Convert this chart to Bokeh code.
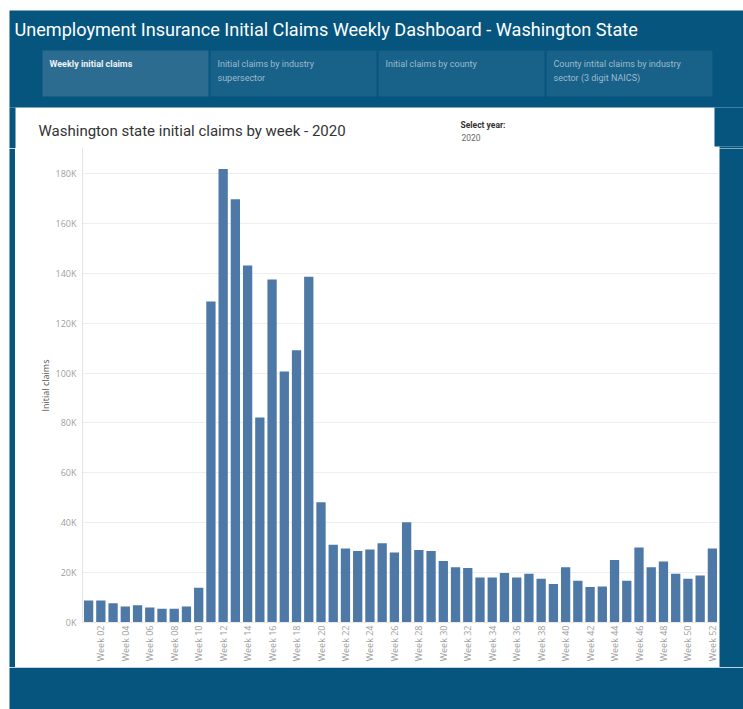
import numpy as np
from bokeh.plotting import figure
from bokeh.layouts import column, row
from bokeh.models import FixedTicker
from bokeh.core.properties import value
from bokeh.embed import file_html
from bokeh.resources import INLINE

# ---- data -------------------------------------------------------------
week_numbers = list(range(1, 53))
claims = [8800, 8800, 7700, 6400, 6900, 6000, 5500, 5500, 6400, 13900,
          128700, 181800, 169700, 143100, 82200, 137500, 100600, 109100, 138600, 48200,
          31200, 29700, 28700, 29300, 31800, 28100, 40200, 29100, 28700, 24700,
          22100, 21800, 18000, 18000, 19800, 18000, 19500, 17500, 15400, 22100,
          16700, 14200, 14400, 25100, 16700, 30100, 22100, 24500, 19500, 17500,
          18800, 29700]
x_ticks = list(range(2, 53, 2))
x_tick_labels = [f"Week {w:02d}" for w in x_ticks]
y_ticks = [0, 20000, 40000, 60000, 80000, 100000, 120000, 140000, 160000, 180000]
y_tick_labels = ["0K", "20K", "40K", "60K", "80K", "100K", "120K", "140K", "160K", "180K"]
tabs = ["Weekly initial claims",
        "Initial claims by industry\nsupersector",
        "Initial claims by county",
        "County intital claims by industry\nsector (3 digit NAICS)"]

# ---- styling ------------------------------------------------------------
NAVY = "#05557e"
TAB_ON = "#2b6c90"
TAB_OFF = "#186189"
BAR = "#4e79a7"
FONT = "Roboto"
AXIS_FONT = "Open Sans"


def panel(w, h, fill="white"):
    """A plain drawing surface whose data units are pixels (y pointing down)."""
    f = figure(width=w, height=h, x_range=(0, w), y_range=(h, 0),
               output_backend="svg", toolbar_location=None,
               x_axis_type=None, y_axis_type=None, min_border=0)
    f.outline_line_color = None
    f.background_fill_color = fill
    f.border_fill_color = fill
    f.xgrid.visible = False
    f.ygrid.visible = False
    return f


def rect(f, l, r, t, b, color):
    f.quad(left=[l], right=[r], top=[t], bottom=[b], fill_color=color, line_color=None)


def write(f, x, y, text, size, color, style="normal", font=FONT):
    f.text(x=[x], y=[y], text=[text], text_font=value(font), text_font_size=size,
           text_color=color, text_font_style=style, text_align="left",
           text_baseline="middle")


# ---- top band: dashboard title, navigation tabs, chart heading ---------
top = panel(743, 148)
rect(top, 9, 743, 10, 107, NAVY)
rect(top, 9, 15, 107, 148, NAVY)
rect(top, 714, 743, 107, 146, NAVY)
rect(top, 719, 743, 146, 148, NAVY)
write(top, 14, 29,
      "Unemployment Insurance Initial Claims Weekly Dashboard  - Washington State",
      "18.1px", "white")
tab_x = [42, 210, 378, 546]
for i, (x0, text) in enumerate(zip(tab_x, tabs)):
    rect(top, x0, x0 + 166, 50, 96, TAB_ON if i == 0 else TAB_OFF)
    for j, line in enumerate(text.split("\n")):
        write(top, x0 + 7, 63 + 14 * j, line, "9px",
              "#eef3f6" if i == 0 else "#9dbbcd",
              style="bold" if i == 0 else "normal")
write(top, 38, 130, "Washington state initial claims by week - 2020", "15px", "#333333")
write(top, 460, 124, "Select year:", "8.5px", "#333333", style="bold")
write(top, 461, 137, "2020", "8.5px", "#666666")

# ---- side and bottom margins of the dashboard ---------------------------
left = panel(15, 519)
rect(left, 9, 15, 0, 519, NAVY)
right = panel(24, 519, NAVY)
footer = panel(743, 42)
rect(footer, 9, 743, 0, 42, NAVY)

# ---- weekly claims bar chart ------------------------------------------
p = figure(width=704, height=519, output_backend="svg", toolbar_location=None,
           x_range=(0.5, 52.5), y_range=(0, 190000),
           min_border_left=67, min_border_right=1,
           min_border_top=0, min_border_bottom=45)
p.title.visible = False
p.border_fill_color = "white"
p.background_fill_color = "white"
p.outline_line_color = None

p.vbar(x=week_numbers, top=claims, width=0.76, fill_color=BAR, line_color=None)

p.xgrid.visible = False
p.ygrid.ticker = FixedTicker(ticks=y_ticks)
p.ygrid.grid_line_color = "#eeeeee"

ya = p.yaxis[0]
ya.ticker = FixedTicker(ticks=y_ticks)
ya.major_label_overrides = dict(zip(y_ticks, y_tick_labels))
ya.major_label_text_font = AXIS_FONT
ya.major_label_text_font_size = "9px"
ya.major_label_text_color = "#a0a0a0"
ya.major_tick_line_color = None
ya.minor_tick_line_color = None
ya.major_tick_out = 0
ya.major_label_standoff = 6
ya.axis_line_color = "#e4e4e4"
ya.axis_label = "Initial claims"
ya.axis_label_text_font = AXIS_FONT
ya.axis_label_text_font_size = "9px"
ya.axis_label_text_font_style = "normal"
ya.axis_label_text_color = "#555555"
ya.axis_label_standoff = 1

xa = p.xaxis[0]
xa.ticker = FixedTicker(ticks=x_ticks)
xa.major_label_overrides = dict(zip(x_ticks, x_tick_labels))
xa.major_label_orientation = np.pi / 2
xa.major_label_text_font = AXIS_FONT
xa.major_label_text_font_size = "9px"
xa.major_label_text_color = "#a0a0a0"
xa.major_tick_line_color = None
xa.minor_tick_line_color = None
xa.major_tick_out = 0
xa.major_label_standoff = 3
xa.axis_line_color = "#e8e8e8"

layout = column(
    top,
    row(left, column(p, spacing=0), right, spacing=0),
    footer,
    spacing=0,
)

open("out.html", "w").write(file_html(layout, INLINE))
